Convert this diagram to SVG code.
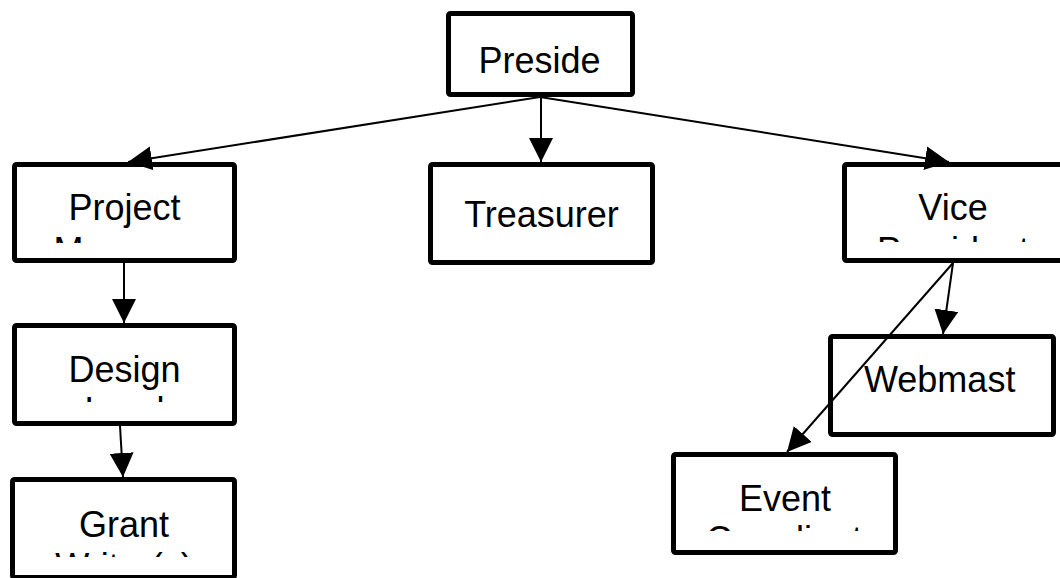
<svg xmlns="http://www.w3.org/2000/svg" width="1060" height="578" viewBox="0 0 1060 578">
<style>
.box{fill:#fff;stroke:#000;stroke-width:5}
.lbl{font-family:"Liberation Sans",Arial,sans-serif;font-size:36px;fill:#000}
.c{text-anchor:middle}
.edge{stroke:#000;stroke-width:2;fill:none}
</style>
<defs>
<marker id="arr" markerUnits="userSpaceOnUse" markerWidth="26" markerHeight="26" refX="24" refY="12" orient="auto">
<path d="M0,0 L24,12 L0,24 z" fill="#000"/>
</marker>
<clipPath id="cpProj"><rect x="17" y="167" width="215" height="76"/></clipPath>
<clipPath id="cpVice"><rect x="847" y="167" width="215" height="75"/></clipPath>
<clipPath id="cpDes"><rect x="17" y="328" width="215" height="74"/></clipPath>
<clipPath id="cpGrant"><rect x="15" y="482" width="217" height="75"/></clipPath>
<clipPath id="cpEvt"><rect x="676" y="457" width="217" height="74"/></clipPath>
</defs>
<g id="president">
<rect class="box" x="448.5" y="13.5" width="184" height="81" rx="2"/>
<text class="lbl" x="478.5" y="73">Preside</text>
</g>
<g id="treasurer">
<rect class="box" x="430.5" y="164.5" width="222" height="98" rx="2"/>
<text class="lbl c" x="541.5" y="227">Treasurer</text>
</g>
<g id="project-manager">
<rect class="box" x="14.5" y="164.5" width="220" height="96" rx="2"/>
<g clip-path="url(#cpProj)">
<text class="lbl c" x="124.5" y="220">Project</text>
<text class="lbl c" x="124.5" y="263">Manager</text>
</g>
</g>
<g id="vice-president">
<rect class="box" x="844.5" y="164.5" width="221" height="96" rx="2"/>
<g clip-path="url(#cpVice)">
<text class="lbl c" x="953" y="220">Vice</text>
<text class="lbl c" x="953" y="263">President</text>
</g>
</g>
<g id="design-lead">
<rect class="box" x="14.5" y="325.5" width="220" height="98" rx="2"/>
<g clip-path="url(#cpDes)">
<text class="lbl c" x="124.5" y="382">Design</text>
<text class="lbl c" x="124.5" y="423">Lead</text>
</g>
</g>
<g id="grant-writers">
<rect class="box" x="12.5" y="479.5" width="222" height="98" rx="2"/>
<g clip-path="url(#cpGrant)">
<text class="lbl c" x="124" y="537">Grant</text>
<text class="lbl c" x="124" y="579">Writer(s)</text>
</g>
</g>
<g id="webmaster">
<rect class="box" x="830.5" y="336.5" width="223" height="98" rx="2"/>
<text class="lbl" x="864" y="392">Webmast</text>
</g>
<g id="event-coordinator">
<rect class="box" x="673.5" y="454.5" width="222" height="98" rx="2"/>
<g clip-path="url(#cpEvt)">
<text class="lbl c" x="785" y="511">Event</text>
<text class="lbl" x="706" y="552">Coordinator</text>
</g>
</g>
<g id="connectors">
<line class="edge" x1="540" y1="97" x2="128" y2="162" marker-end="url(#arr)"/>
<line class="edge" x1="541" y1="97" x2="541" y2="162" marker-end="url(#arr)"/>
<line class="edge" x1="540" y1="97" x2="949" y2="162" marker-end="url(#arr)"/>
<line class="edge" x1="124" y1="263" x2="124" y2="323" marker-end="url(#arr)"/>
<line class="edge" x1="120" y1="426" x2="123" y2="477" marker-end="url(#arr)"/>
<line class="edge" x1="953" y1="263" x2="943" y2="334" marker-end="url(#arr)"/>
<line class="edge" x1="953" y1="263" x2="787" y2="452" marker-end="url(#arr)"/>
</g>
</svg>
